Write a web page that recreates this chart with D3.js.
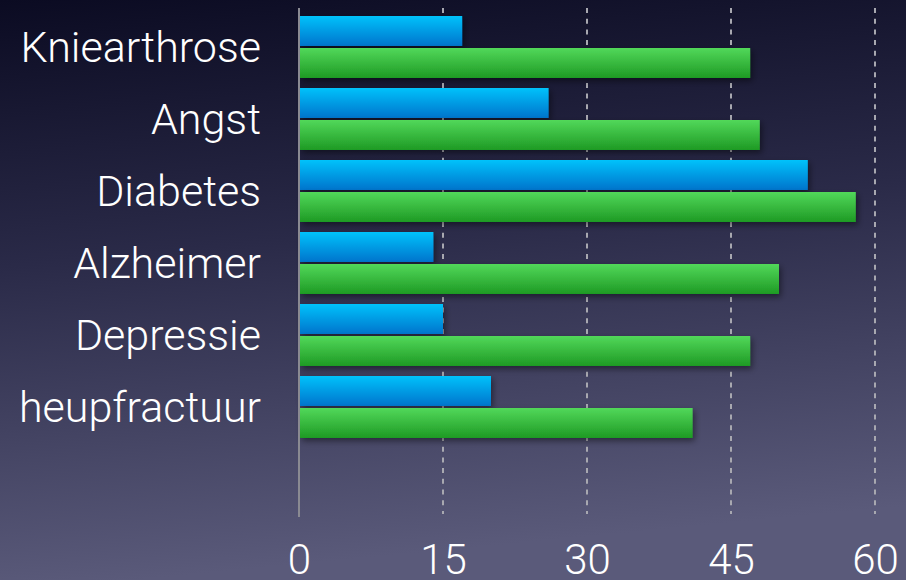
<!DOCTYPE html>
<html>
<head>
<meta charset="utf-8">
<script src="https://cdn.jsdelivr.net/npm/d3@7"></script>
<style>
  html, body { margin: 0; padding: 0; background: #10102a; }
  svg { display: block; }
</style>
</head>
<body>
<script>
// Categories, top to bottom
const categories = ["Kniearthrose", "Angst", "Diabetes", "Alzheimer", "Depressie", "heupfractuur"];
// Two series per category (blue bar on top, green bar below)
const seriesNames = ["blauw", "groen"];
const blueValues  = [17, 26, 53, 14, 15, 20];
const greenValues = [47, 48, 58, 50, 47, 41];
const tickValues  = [0, 15, 30, 45, 60];

const W = 906, H = 580;
const svg = d3.select("body").append("svg").attr("width", W).attr("height", H);
const defs = svg.append("defs");

// Background gradient
const bg = defs.append("linearGradient").attr("id", "bg").attr("x1", 0).attr("y1", 0).attr("x2", 0.15).attr("y2", 1);
bg.append("stop").attr("offset", "0%").attr("stop-color", "#0b0b22");
bg.append("stop").attr("offset", "45%").attr("stop-color", "#2a2a48");
bg.append("stop").attr("offset", "100%").attr("stop-color", "#5a5a7a");
svg.append("rect").attr("width", W).attr("height", H).attr("fill", "url(#bg)");

// Bar gradients
function vGrad(id, top, bottom) {
  const g = defs.append("linearGradient").attr("id", id).attr("x1", 0).attr("y1", 0).attr("x2", 0).attr("y2", 1);
  g.append("stop").attr("offset", "0%").attr("stop-color", top);
  g.append("stop").attr("offset", "100%").attr("stop-color", bottom);
}
vGrad("gBlue", "#00c2fb", "#0074cc");
vGrad("gGreen", "#52d85a", "#1e9a24");

const shadow = defs.append("filter").attr("id", "shadow").attr("x", "-5%").attr("y", "-30%").attr("width", "115%").attr("height", "180%");
shadow.append("feDropShadow").attr("dx", 2).attr("dy", 3).attr("stdDeviation", 3)
  .attr("flood-color", "#000").attr("flood-opacity", 0.45);

const x = d3.scaleLinear().domain([0, 60]).range([299, 875]);
const y = d3.scaleBand().domain(categories).range([10, 442]).padding(0);
const ySub = d3.scaleBand().domain(seriesNames).range([6, 68]).paddingInner(0.0625);

const fontFamily = "Roboto, 'Liberation Sans', sans-serif";

// Dashed gridlines
svg.append("g").selectAll("line").data(tickValues.filter(v => v > 0)).join("line")
  .attr("x1", d => x(d)).attr("x2", d => x(d))
  .attr("y1", 8).attr("y2", 514)
  .attr("stroke", "#a8a8b0").attr("stroke-width", 2)
  .attr("stroke-dasharray", "5,5.7");

// Bars
const rows = categories.map((c, i) => ({ cat: c, values: [blueValues[i], greenValues[i]] }));
const gRows = svg.append("g").selectAll("g").data(rows).join("g")
  .attr("transform", d => `translate(0,${y(d.cat)})`);
gRows.selectAll("rect").data(d => d.values.map((v, j) => ({ s: seriesNames[j], v })))
  .join("rect")
  .attr("x", x(0) + 1)
  .attr("y", d => ySub(d.s))
  .attr("width", d => x(d.v) - x(0) - 1)
  .attr("height", ySub.bandwidth())
  .attr("fill", d => d.s === "blauw" ? "url(#gBlue)" : "url(#gGreen)")
  .attr("filter", "url(#shadow)");

// Zero axis line
svg.append("line")
  .attr("x1", x(0)).attr("x2", x(0)).attr("y1", 8).attr("y2", 517)
  .attr("stroke", "#8a8a92").attr("stroke-width", 2);

// Category labels
svg.append("g").selectAll("text").data(categories).join("text")
  .attr("x", 261)
  .attr("y", d => y(d) + y.bandwidth() / 2 + 15.5)
  .attr("text-anchor", "end")
  .attr("fill", "#ffffff")
  .style("font-family", fontFamily)
  .style("font-weight", 300)
  .style("font-size", "43px")
  .text(d => d);

// X axis tick labels
const xAxis = d3.axisBottom(x).tickValues(tickValues).tickSize(0).tickPadding(0);
const ax = svg.append("g").attr("transform", "translate(0,544)").call(xAxis);
ax.select(".domain").remove();
ax.selectAll("text")
  .attr("fill", "#ffffff")
  .attr("dy", "0.71em")
  .style("font-family", fontFamily)
  .style("font-weight", 300)
  .style("font-size", "42px");
</script>
</body>
</html>
